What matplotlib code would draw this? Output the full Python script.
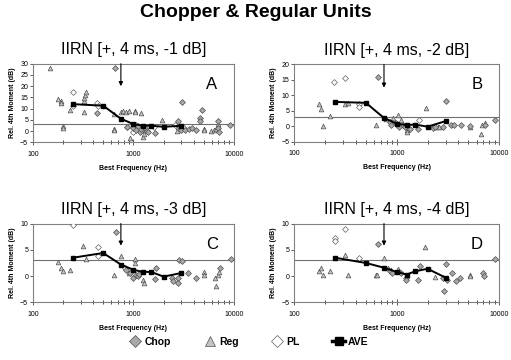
import matplotlib
matplotlib.use("Agg")
import matplotlib.pyplot as plt
from matplotlib.lines import Line2D

plt.rcParams['font.family'] = ['Liberation Sans', 'DejaVu Sans']

# ---------------- data ----------------
ave_f = [250, 500, 750, 1000, 1250, 1500, 2000, 3000]

# Panel A  (-1 dB)
A_ave = [12.0, 11.3, 5.5, 3.1, 2.4, 2.4, 1.9, 2.4]
A_reg_f = [149, 179, 189, 192, 197, 197, 232, 319, 319, 323, 330, 335, 636, 636, 645, 748,
           788, 837, 902, 914, 1030, 1045, 1195, 1259, 1275, 1300, 1924, 2700, 2760, 5046,
           5046, 5900, 6300, 6600, 6950]
A_reg_y = [28.0, 14.5, 13.5, 12.6, 2.1, 1.2, 9.6, 8.3, 13.5, 14.7, 16.2, 17.5, 0.9, 0.4, 7.7, 8.3,
           8.8, 8.3, 8.8, -3.1, 9.1, 8.3, 8.0, -2.7, -1.5, 0.3, 5.0, 0.0, 1.8, 0.9,
           0.4, 0.0, 0.3, 0.9, 3.0]
A_chop_f = [438, 659, 869, 1000, 1050, 1100, 1150, 1200, 1300, 1350, 1400, 1634, 2806, 2900,
            3000, 3069, 3300, 3600, 3837, 4227, 4624, 4624, 4797, 6950, 7000, 7100, 9140]
A_chop_y = [8.0, 28.0, 1.8, 1.5, 0.5, 2.2, -0.5, 0.8, 1.5, 0.0, -0.5, -0.9, 4.6, 2.0,
            0.5, 12.9, 0.3, 1.0, 1.3, 0.6, 5.8, 4.6, 9.5, 4.3, 1.3, -0.5, 2.8]
A_pl_f = [250, 250, 438, 440, 855, 1000, 1050, 1600, 2600, 3200]
A_pl_y = [17.3, 11.2, 12.6, 11.2, 1.6, -0.5, 2.5, 1.8, 2.5, 1.5]

# Panel B  (-2 dB)
B_ave = [7.9, 7.6, 2.7, 0.9, 0.4, 0.6, -0.1, 1.7]
B_reg_f = [174, 182, 192, 223, 312, 331, 627, 783, 910, 1019, 1097, 1258, 1258, 1928, 2500,
           2600, 5210, 6600, 6800, 7200]
B_reg_y = [7.3, 5.7, 0.1, 3.2, 7.3, 7.5, 0.4, 2.3, 2.8, 3.7, 2.0, -1.2, -1.7, 6.0, -0.1,
           -0.1, -0.2, -2.4, 0.3, 1.1]
B_chop_f = [661, 865, 875, 975, 1060, 1140, 1200, 1355, 1620, 2240, 2350, 2800, 3020, 3370,
            3630, 4230, 5210, 7200, 9080]
B_chop_y = [15.8, 1.5, 0.6, 1.0, -0.1, 0.4, -0.1, -0.9, -1.0, -0.4, -0.1, -0.1, 8.2, 0.6,
            0.6, 0.3, 0.0, 0.6, 2.2]
B_pl_f = [244, 312, 430, 430, 1660]
B_pl_y = [14.3, 15.6, 7.1, 6.2, 2.0]

# Panel C  (-3 dB)
C_ave = [3.5, 4.4, 2.2, 1.2, 0.8, 0.8, -0.1, 0.6]
C_reg_f = [179, 189, 197, 232, 318, 338, 646, 760, 902, 1030, 1045, 1240, 1260, 5050, 5050,
           6450, 6700, 6950, 7100]
C_reg_y = [2.7, 1.6, 0.9, 1.1, 5.7, 3.2, 0.3, 3.9, 0.6, 3.3, 2.5, -0.8, -1.4, 0.8, 0.3,
           -0.4, -1.8, 0.2, 0.8]
C_chop_f = [670, 849, 935, 1000, 1060, 1100, 1140, 1670, 1640, 2400, 2480, 2790, 2800, 2850,
            3030, 3480, 4230, 7200, 9340]
C_chop_y = [8.3, 1.2, 0.6, -0.3, 0.3, 0.0, 0.4, 1.5, -0.6, -0.4, -0.9, -0.4, -1.3, 3.0,
            2.8, 0.6, -0.4, 1.5, 3.2]
C_pl_f = [250, 439, 439, 830]
C_pl_y = [9.7, 5.6, 3.9, 1.6]

# Panel D  (-4 dB)
D_ave = [3.5, 2.5, 1.6, 0.8, 0.3, 0.9, 1.4, -0.3]
D_reg_f = [174, 182, 192, 223, 312, 331, 627, 641, 755, 826, 876, 1020, 1040, 1897, 2355,
           5200, 5200]
D_reg_y = [1.0, 1.5, 0.3, 1.0, 4.0, 0.2, 0.3, 0.2, 3.5, 1.6, 1.2, 1.4, 0.9, 5.6, -0.1,
           0.3, 0.0]
D_chop_f = [661, 850, 900, 1100, 1230, 1240, 1620, 1690, 2800, 2860, 3020, 3060, 3420, 3770,
            4180, 6900, 7100, 9000]
D_chop_y = [6.1, 0.9, 0.6, 0.5, -0.4, -0.7, -0.7, 2.0, -0.3, -2.8, 2.3, -0.7, 0.6, -0.9,
            -0.3, 0.6, 0.0, 3.3]
D_pl_f = [250, 250, 312, 430]
D_pl_y = [7.3, 6.6, 8.9, 3.4]

panels = [
    dict(title="IIRN [+, 4 ms, -1 dB]", letter="A", ylim=(-5, 30), yticks=range(-5, 31, 5),
         ave=A_ave, reg=(A_reg_f, A_reg_y), chop=(A_chop_f, A_chop_y), pl=(A_pl_f, A_pl_y),
         arrow=20.0, rect=[0.0646, 0.6047, 0.393, 0.2183]),
    dict(title="IIRN [+, 4 ms, -2 dB]", letter="B", ylim=(-5, 20), yticks=range(-5, 21, 5),
         ave=B_ave, reg=(B_reg_f, B_reg_y), chop=(B_chop_f, B_chop_y), pl=(B_pl_f, B_pl_y),
         arrow=12.5, rect=[0.576, 0.606, 0.401, 0.215]),
    dict(title="IIRN [+, 4 ms, -3 dB]", letter="C", ylim=(-5, 10), yticks=range(-5, 11, 5),
         ave=C_ave, reg=(C_reg_f, C_reg_y), chop=(C_chop_f, C_chop_y), pl=(C_pl_f, C_pl_y),
         arrow=5.8, rect=[0.0646, 0.160, 0.393, 0.219]),
    dict(title="IIRN [+, 4 ms, -4 dB]", letter="D", ylim=(-5, 10), yticks=range(-5, 11, 5),
         ave=D_ave, reg=(D_reg_f, D_reg_y), chop=(D_chop_f, D_chop_y), pl=(D_pl_f, D_pl_y),
         arrow=5.8, rect=[0.576, 0.160, 0.401, 0.219]),
]

ref_line = 3
arrow_f = 750
spine_c = '#808080'
chop_style = dict(marker='D', ms=3.0, mfc='#a8a8a8', mec='#505050', mew=0.5, ls='none')
reg_style = dict(marker='^', ms=3.4, mfc='#c4c4c4', mec='#505050', mew=0.5, ls='none')
pl_style = dict(marker='D', ms=3.0, mfc='white', mec='#606060', mew=0.5, ls='none')
ave_style = dict(marker='s', ms=3.2, color='black', lw=1.4, mfc='black', mec='black')

fig = plt.figure(figsize=(5.11, 3.6), dpi=100)
fig.text(0.5, 0.965, "Chopper & Regular Units", ha='center', va='center',
         fontsize=14, fontweight='bold')

for p in panels:
    ax = fig.add_axes(p['rect'])
    ax.set_xscale('log')
    ax.set_xlim(100, 10000)
    ax.set_ylim(*p['ylim'])
    ax.set_yticks(list(p['yticks']))
    ax.axhline(ref_line, color='#707070', lw=0.8, zorder=1)
    ax.plot(*p['reg'], zorder=3, **reg_style)
    ax.plot(*p['pl'], zorder=3, **pl_style)
    ax.plot(*p['chop'], zorder=3, **chop_style)
    ax.plot(ave_f, p['ave'], zorder=4, **ave_style)
    top = p['ylim'][1]
    ax.annotate('', xy=(arrow_f, p['arrow']), xytext=(arrow_f, top),
                arrowprops=dict(arrowstyle='-|>', color='black', lw=0.8,
                                mutation_scale=6, shrinkA=0, shrinkB=0), zorder=5)
    for s in ax.spines.values():
        s.set_color(spine_c)
        s.set_linewidth(0.8)
    ax.tick_params(axis='both', labelsize=5, colors='#404040', width=0.6)
    ax.tick_params(axis='x', which='major', direction='inout', length=4, pad=4)
    ax.tick_params(axis='x', which='minor', direction='inout', length=2.5, width=0.5)
    ax.tick_params(axis='y', direction='out', length=2, pad=1.5)
    for lab in ax.get_xticklabels() + ax.get_yticklabels():
        lab.set_color('black')
    ax.set_xticks([100, 1000, 10000])
    ax.set_xticklabels(['100', '1000', '10000'])
    ax.set_xlabel('Best Frequency (Hz)', fontsize=5, fontweight='bold', labelpad=5)
    ax.set_ylabel('Rel. 4th Moment (dB)', fontsize=5, fontweight='bold', labelpad=3)
    ax.set_title(p['title'], fontsize=11.5, pad=7)
    ax.text(0.89, 0.74, p['letter'], transform=ax.transAxes, fontsize=12,
            ha='center', va='center')

handles = [Line2D([], [], **chop_style), Line2D([], [], **reg_style),
           Line2D([], [], **pl_style), Line2D([], [], **ave_style)]
for h in handles[:3]:
    h.set_markersize(6.5)
handles[3].set_markersize(5.5)
handles[3].set_linewidth(2.5)
leg = fig.legend(handles, ['Chop', 'Reg', 'PL', 'AVE'], ncol=4, loc='center',
                 bbox_to_anchor=(0.487, 0.051), frameon=False, fontsize=7.5,
                 handlelength=1.2, handletextpad=0.3, columnspacing=3.1)
for t in leg.get_texts():
    t.set_fontweight('bold')

fig.savefig('out.png', dpi=100)
